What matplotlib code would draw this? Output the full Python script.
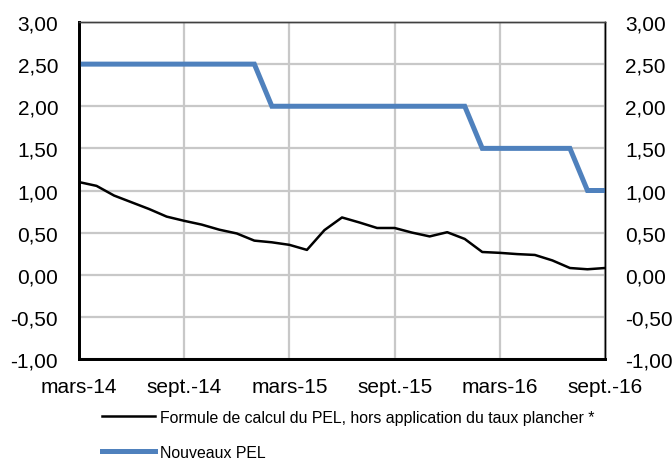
import numpy as np
import matplotlib.pyplot as plt
from matplotlib.lines import Line2D

plt.rcParams['font.family'] = ['Liberation Sans', 'DejaVu Sans']

# mois de mars-14 a sept.-16
mois = np.arange(31)
tick_pos = [0, 6, 12, 18, 24, 30]
tick_labels = ['mars-14', 'sept.-14', 'mars-15', 'sept.-15', 'mars-16', 'sept.-16']

# Formule de calcul du PEL, hors taux plancher
formule = [1.10, 1.055, 0.94, 0.86, 0.78, 0.69, 0.64, 0.595, 0.535, 0.49,
           0.405, 0.385, 0.355, 0.295, 0.53, 0.68, 0.62, 0.555, 0.555, 0.50,
           0.455, 0.505, 0.425, 0.27, 0.26, 0.245, 0.235, 0.17, 0.08, 0.065,
           0.08]
# Taux des nouveaux PEL
nouveaux = [2.5] * 11 + [2.0] * 12 + [1.5] * 6 + [1.0] * 2

yticks = np.arange(-1.0, 3.01, 0.5)
ylabels = [f'{v:.2f}'.replace('.', ',') for v in yticks]

fig = plt.figure(figsize=(6.72, 4.64), dpi=100)
ax = fig.add_axes([79 / 672, 1 - 360 / 464, 526 / 672, 337 / 464])

ax.plot(mois, formule, color='black', lw=1.8, zorder=3)
ax.plot(mois, nouveaux, color='#4f81bd', lw=3.6, zorder=3,
        solid_joinstyle='miter')

ax.set_xlim(0, 30)
ax.set_ylim(-1, 3)
ax.set_xticks(tick_pos)
ax.set_xticklabels(tick_labels)
ax.set_yticks(yticks)
ax.set_yticklabels(ylabels)
ax.grid(True, color='#c8c8c8', lw=1.6)
ax.set_axisbelow(True)
ax.tick_params(axis='x', length=0, labelsize=15, pad=13)
ax.tick_params(axis='y', length=0, labelsize=15, pad=15)

ax2 = ax.twinx()
ax2.set_ylim(-1, 3)
ax2.set_yticks(yticks)
ax2.set_yticklabels(ylabels)
ax2.tick_params(length=0, labelsize=15, pad=14.5)

for a in (ax, ax2):
    a.spines['left'].set_linewidth(2)
    a.spines['bottom'].set_linewidth(2)
    a.spines['right'].set_linewidth(1)
    a.spines['top'].set_linewidth(1)
    a.spines['top'].set_color('#404040')

handles = [Line2D([], [], color='black', lw=1.8),
           Line2D([], [], color='#4f81bd', lw=3.6)]
labels = ['Formule de calcul du PEL, hors application du taux plancher *',
          'Nouveaux PEL']
fig.legend(handles, labels, loc='upper left', bbox_to_anchor=(102 / 672, 1 - 411 / 464),
           frameon=False, fontsize=11.4, handlelength=3.35, handletextpad=0.3,
           labelspacing=1.26, borderpad=0, borderaxespad=0)

fig.savefig('out.png', dpi=100)
